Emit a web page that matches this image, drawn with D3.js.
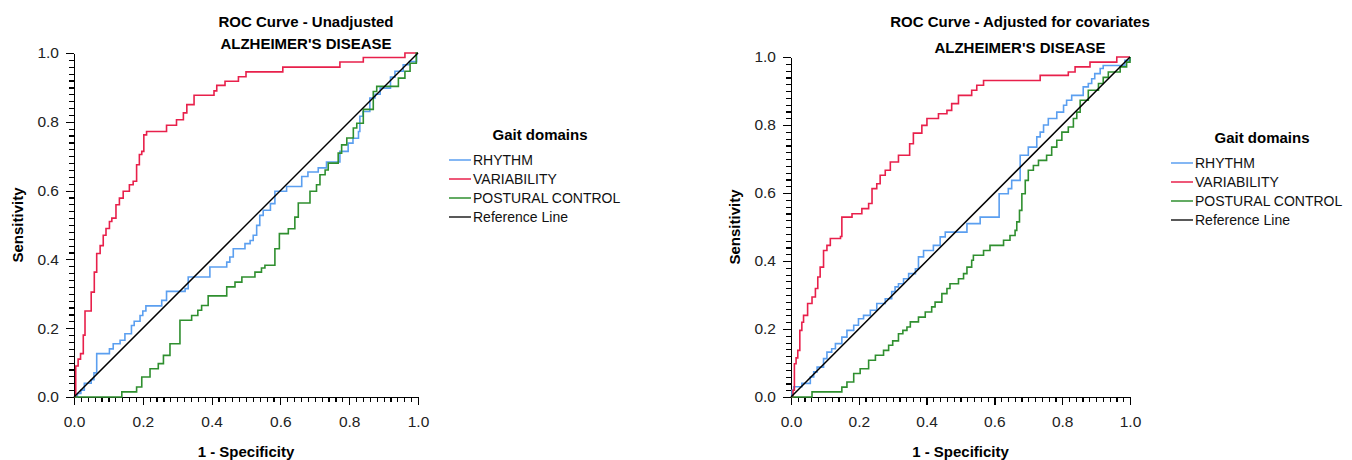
<!DOCTYPE html>
<html>
<head>
    <script src="https://d3js.org/d3.v7.min.js"></script>
    <style>
        body { margin: 0; background: #fff; }
        text { font-family: "Liberation Sans", Arial, sans-serif; }
    </style>
</head>
<body>
<svg id="chart" width="1352" height="460"></svg>
<script>
// tick labels and legend entries
var tickValues = [0, 0.2, 0.4, 0.6, 0.8, 1.0];
var seriesNames = ["RHYTHM", "VARIABILITY", "POSTURAL CONTROL", "Reference Line"];
var seriesColors = ["#5b9ff0", "#e8204b", "#2f8f2f", "#222"];

// [1 - specificity, sensitivity]
var unadjRhythm = [[0,0],[0.01,0.01],[0.02,0.02],[0.03,0.04],[0.05,0.05],[0.058,0.07],[0.066,0.126],[0.103,0.14],[0.114,0.155],[0.134,0.165],
    [0.148,0.184],[0.167,0.208],[0.175,0.22],[0.192,0.237],[0.2,0.25],[0.209,0.265],[0.255,0.281],[0.269,0.307],[0.323,0.315],[0.332,0.349],
    [0.395,0.378],[0.444,0.392],[0.453,0.407],[0.463,0.431],[0.497,0.446],[0.512,0.455],[0.521,0.47],[0.531,0.499],[0.54,0.528],[0.55,0.543],
    [0.571,0.562],[0.584,0.598],[0.618,0.612],[0.662,0.641],[0.68,0.654],[0.71,0.666],[0.734,0.683],[0.773,0.714],[0.797,0.738],[0.811,0.752],
    [0.827,0.772],[0.831,0.816],[0.84,0.83],[0.86,0.869],[0.875,0.88],[0.89,0.898],[0.92,0.93],[0.933,0.947],[0.957,0.966],[0.975,0.975],
    [0.996,1.0],[1,1]];
var unadjVariability = [[0,0],[0.005,0.09],[0.012,0.11],[0.019,0.126],[0.027,0.18],[0.032,0.25],[0.05,0.305],[0.059,0.363],[0.066,0.417],
    [0.076,0.44],[0.085,0.47],[0.093,0.49],[0.103,0.51],[0.11,0.52],[0.122,0.559],[0.132,0.578],[0.143,0.598],[0.161,0.617],[0.172,0.627],
    [0.182,0.675],[0.19,0.705],[0.197,0.714],[0.203,0.762],[0.211,0.772],[0.269,0.79],[0.298,0.806],[0.318,0.826],[0.328,0.85],[0.349,0.877],
    [0.407,0.89],[0.415,0.906],[0.439,0.918],[0.478,0.931],[0.5,0.945],[0.607,0.959],[0.773,0.974],[0.841,0.987],[0.962,1.0],[1,1]];
var unadjPostural = [[0,0],[0.139,0.015],[0.182,0.029],[0.197,0.058],[0.221,0.082],[0.245,0.097],[0.26,0.121],[0.279,0.155],[0.308,0.223],
    [0.342,0.237],[0.36,0.252],[0.371,0.266],[0.39,0.294],[0.444,0.32],[0.468,0.334],[0.488,0.349],[0.526,0.363],[0.545,0.375],[0.555,0.383],
    [0.584,0.431],[0.597,0.475],[0.623,0.489],[0.642,0.523],[0.652,0.564],[0.686,0.598],[0.705,0.617],[0.715,0.646],[0.73,0.66],[0.739,0.68],
    [0.768,0.709],[0.778,0.733],[0.793,0.753],[0.812,0.782],[0.822,0.796],[0.841,0.836],[0.87,0.888],[0.88,0.903],[0.943,0.927],[0.962,0.947],
    [0.977,0.97],[0.995,1.0],[1,1]];

// [1 - specificity, sensitivity]
var adjRhythm = [[0,0],[0.003,0.02],[0.008,0.03],[0.032,0.04],[0.057,0.059],[0.067,0.074],[0.077,0.088],[0.096,0.113],[0.106,0.132],
    [0.12,0.142],[0.131,0.157],[0.15,0.176],[0.165,0.196],[0.185,0.211],[0.199,0.23],[0.214,0.24],[0.234,0.255],[0.253,0.275],[0.278,0.289],
    [0.297,0.31],[0.307,0.324],[0.317,0.333],[0.332,0.348],[0.347,0.363],[0.367,0.377],[0.376,0.412],[0.391,0.431],[0.42,0.446],[0.44,0.471],
    [0.455,0.485],[0.519,0.51],[0.558,0.529],[0.614,0.598],[0.641,0.613],[0.651,0.637],[0.676,0.711],[0.7,0.735],[0.725,0.765],[0.735,0.779],
    [0.745,0.8],[0.759,0.819],[0.784,0.838],[0.804,0.858],[0.813,0.873],[0.828,0.887],[0.862,0.912],[0.877,0.922],[0.887,0.936],[0.896,0.951],
    [0.912,0.966],[0.921,0.975],[0.985,0.99],[1,1]];
var adjVariability = [[0,0],[0.006,0.02],[0.01,0.098],[0.015,0.115],[0.02,0.137],[0.026,0.196],[0.032,0.22],[0.037,0.24],[0.049,0.275],
    [0.062,0.294],[0.072,0.319],[0.079,0.353],[0.086,0.382],[0.096,0.431],[0.106,0.446],[0.116,0.466],[0.146,0.472],[0.15,0.529],[0.18,0.539],
    [0.209,0.554],[0.229,0.569],[0.239,0.613],[0.253,0.627],[0.263,0.652],[0.278,0.667],[0.293,0.691],[0.317,0.711],[0.35,0.745],[0.361,0.776],
    [0.386,0.799],[0.401,0.819],[0.435,0.833],[0.46,0.843],[0.474,0.863],[0.494,0.887],[0.533,0.902],[0.548,0.917],[0.568,0.931],[0.735,0.946],
    [0.818,0.956],[0.838,0.971],[0.882,0.985],[0.961,1.0],[1,1]];
var adjPostural = [[0,0],[0.062,0.015],[0.15,0.029],[0.165,0.044],[0.185,0.069],[0.204,0.083],[0.229,0.108],[0.249,0.123],[0.273,0.137],
    [0.288,0.152],[0.3,0.165],[0.317,0.186],[0.33,0.196],[0.342,0.206],[0.352,0.221],[0.376,0.235],[0.396,0.25],[0.415,0.265],[0.425,0.279],
    [0.445,0.304],[0.46,0.319],[0.469,0.333],[0.494,0.348],[0.509,0.363],[0.519,0.382],[0.533,0.402],[0.538,0.417],[0.568,0.431],[0.587,0.446],
    [0.627,0.461],[0.646,0.475],[0.661,0.49],[0.666,0.515],[0.674,0.549],[0.681,0.598],[0.691,0.637],[0.7,0.667],[0.715,0.681],[0.73,0.696],
    [0.754,0.711],[0.769,0.735],[0.784,0.755],[0.799,0.779],[0.818,0.794],[0.833,0.819],[0.843,0.838],[0.853,0.873],[0.877,0.902],[0.907,0.922],
    [0.921,0.94],[0.936,0.956],[0.971,0.971],[0.99,0.985],[1,1]];
var referenceLine = [[0,0],[1,1]];

var svg = d3.select("#chart");

function drawPanel(p) {
    var x = d3.scaleLinear().domain([0, 1]).range([p.left, p.right]);
    var y = d3.scaleLinear().domain([0, 1]).range([p.bottom, p.top]);
    var g = svg.append("g");
    var minor = d3.range(0, 51).map(function(i){ return i / 50; });

    // minor ticks first, then the labelled ones
    g.append("g").attr("transform", "translate(0," + p.bottom + ")")
        .call(d3.axisBottom(x).tickValues(minor).tickSize(5).tickSizeOuter(0).tickFormat(""));
    g.append("g").attr("transform", "translate(" + p.left + ",0)")
        .call(d3.axisLeft(y).tickValues(minor).tickSize(5).tickSizeOuter(0).tickFormat(""));
    g.append("g").attr("transform", "translate(0," + p.bottom + ")")
        .call(d3.axisBottom(x).tickValues(tickValues).tickSize(8).tickSizeOuter(0).tickPadding(11).tickFormat(d3.format(".1f")));
    g.append("g").attr("transform", "translate(" + p.left + ",0)")
        .call(d3.axisLeft(y).tickValues(tickValues).tickSize(8).tickSizeOuter(0).tickPadding(7).tickFormat(d3.format(".1f")));
    g.selectAll(".tick text").attr("font-size", 15.5).attr("fill", "#222")
        .style("font-family", "'Liberation Sans', Arial, sans-serif");
    g.selectAll(".domain, .tick line").attr("stroke", "#000").attr("stroke-width", 1.2)
        .attr("shape-rendering", "crispEdges");

    var line = d3.line().x(function(d){ return x(d[0]); }).y(function(d){ return y(d[1]); })
        .curve(d3.curveStepAfter);
    var series = [p.rhythm, p.variability, p.postural];
    series.forEach(function(s, i) {
        g.append("path").datum(s).attr("d", line)
            .attr("fill", "none").attr("stroke", seriesColors[i]).attr("stroke-width", 1.6);
    });
    g.append("path").datum(referenceLine)
        .attr("d", d3.line().x(function(d){ return x(d[0]); }).y(function(d){ return y(d[1]); }))
        .attr("fill", "none").attr("stroke", "#000").attr("stroke-width", 1.5);

    // titles
    g.append("text").attr("x", p.titleX).attr("y", p.title1Y).attr("text-anchor", "middle")
        .attr("font-size", 15).attr("font-weight", "bold").text(p.title);
    g.append("text").attr("x", p.titleX).attr("y", p.title2Y).attr("text-anchor", "middle")
        .attr("font-size", 15).attr("font-weight", "bold").text("ALZHEIMER'S DISEASE");

    // axis titles
    g.append("text").attr("x", (p.left + p.right) / 2).attr("y", 457).attr("text-anchor", "middle")
        .attr("font-size", 15).attr("font-weight", "bold").text("1 - Specificity");
    g.append("text").attr("transform", "translate(" + p.yLabelX + "," + ((p.top + p.bottom) / 2) + ") rotate(-90)")
        .attr("text-anchor", "middle").attr("dy", "0.35em")
        .attr("font-size", 15).attr("font-weight", "bold").text("Sensitivity");

    // legend
    g.append("text").attr("x", p.legendTitleX).attr("y", p.legendTitleY).attr("text-anchor", "middle")
        .attr("font-size", 15).attr("font-weight", "bold").text("Gait domains");
    seriesNames.forEach(function(name, i) {
        var ly = p.legendY + i * 19;
        g.append("line").attr("x1", p.legendX).attr("x2", p.legendX + 22).attr("y1", ly).attr("y2", ly)
            .attr("stroke", seriesColors[i]).attr("stroke-width", 1.5);
        g.append("text").attr("x", p.legendX + 24).attr("y", ly).attr("dy", "0.35em")
            .attr("font-size", 14).attr("fill", "#111").text(name);
    });
}

drawPanel({
    left: 74, right: 418, top: 53, bottom: 397,
    title: "ROC Curve - Unadjusted", titleX: 306, title1Y: 27, title2Y: 49,
    yLabelX: 18, legendTitleX: 540, legendTitleY: 140, legendX: 449, legendY: 160,
    rhythm: unadjRhythm, variability: unadjVariability, postural: unadjPostural
});
drawPanel({
    left: 791, right: 1130, top: 57, bottom: 397,
    title: "ROC Curve - Adjusted for covariates", titleX: 1020, title1Y: 27, title2Y: 53,
    yLabelX: 735, legendTitleX: 1262, legendTitleY: 143, legendX: 1171, legendY: 163,
    rhythm: adjRhythm, variability: adjVariability, postural: adjPostural
});
</script>
</body>
</html>
